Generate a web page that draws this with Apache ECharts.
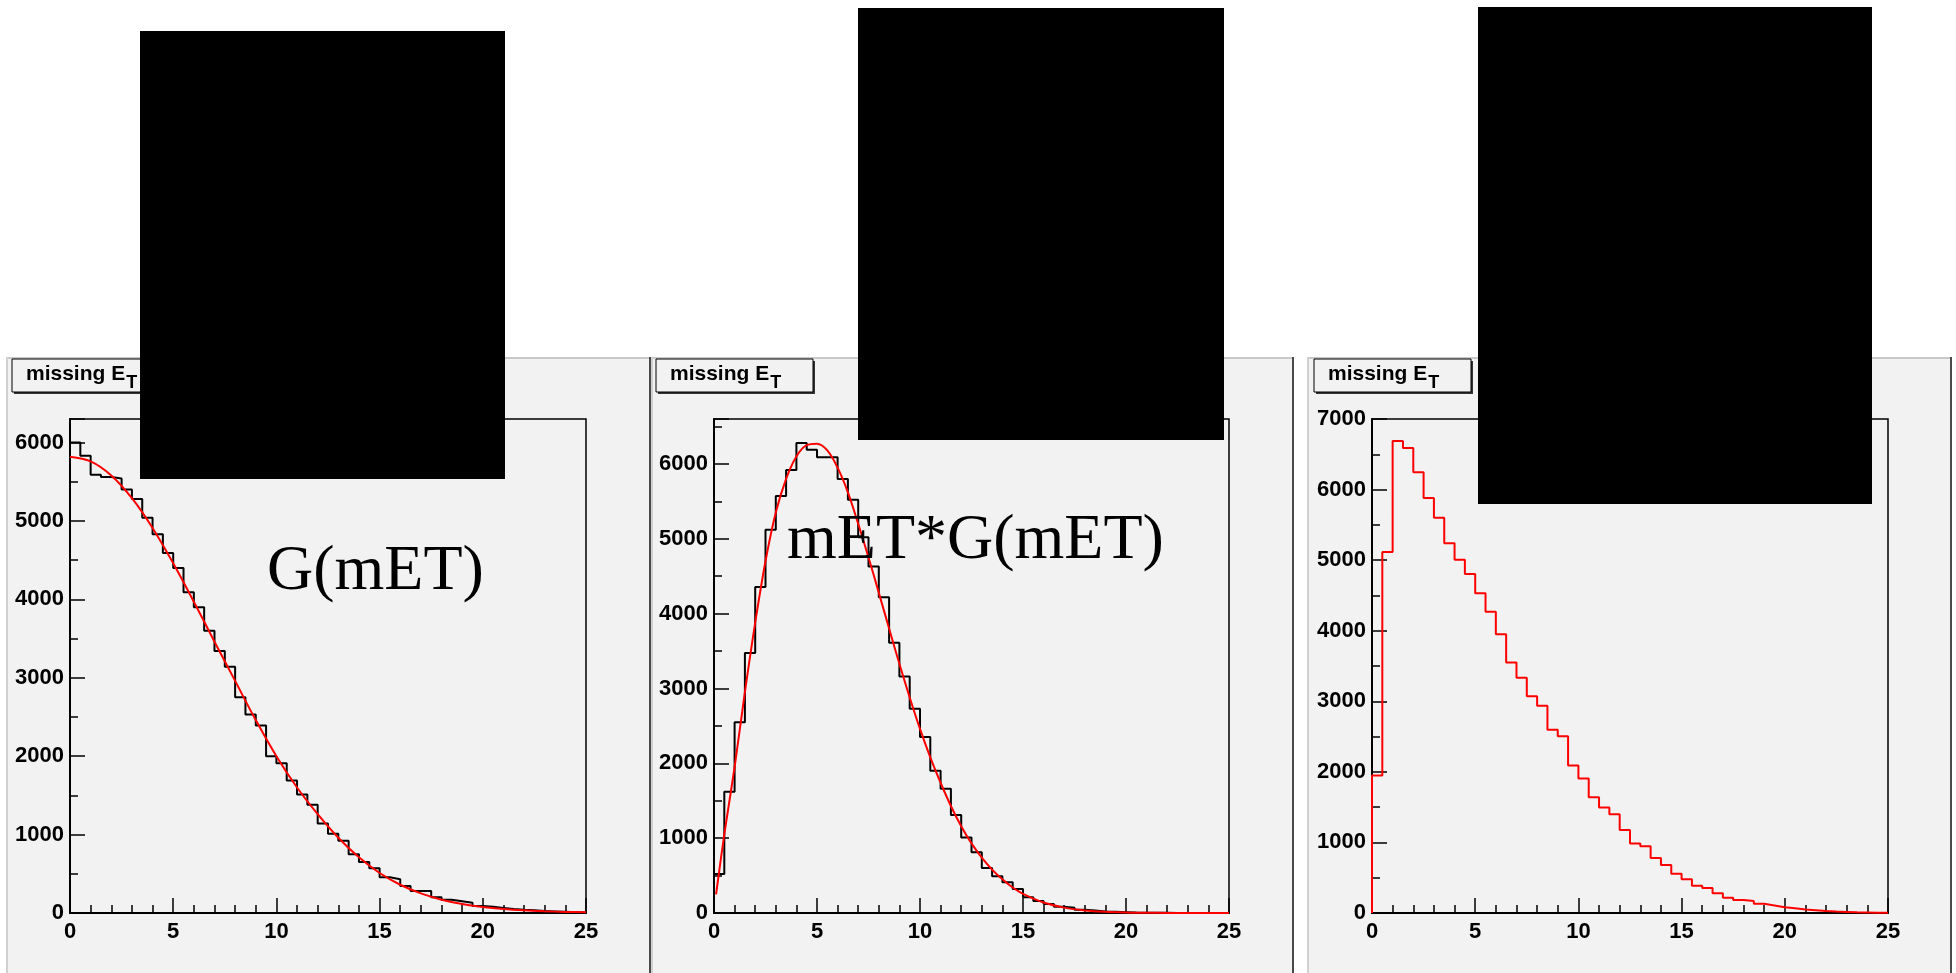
<!DOCTYPE html>
<html>
<head>
<meta charset="utf-8">
<style>
  html, body { margin: 0; padding: 0; background: #fff; }
  #chart { width: 1956px; height: 973px; }
</style>
<script src="https://cdn.jsdelivr.net/npm/echarts@6/dist/echarts.min.js"></script>
</head>
<body>
<div id="chart"></div>
<script>
  // histograms, 50 bins of 0.5 from 0 to 25
  var binWidth = 0.5;
  var gCounts = [6000,5830,5590,5560,5540,5400,5280,5040,4830,4590,4400,4090,3900,3600,3340,3140,2750,2530,2390,2000,
    1910,1690,1510,1380,1140,1010,920,750,650,570,455,430,345,280,280,200,170,150,130,90,
    80,65,50,40,35,25,20,15,10,5];
  var metGCounts = [520,1620,2550,3475,4355,5120,5570,5920,6280,6190,6090,6090,5800,5520,5020,4630,4220,3610,3160,2730,
    2350,1900,1660,1310,1010,810,600,490,410,320,210,160,120,85,70,42,32,21,16,11,
    6,4,3,2,1,1,0,0,0,0];
  var redCounts = [1950,5115,6690,6590,6245,5880,5600,5240,5005,4805,4530,4270,3950,3550,3335,3070,2935,2595,2505,2090,
    1905,1640,1495,1400,1175,985,945,780,680,555,480,385,355,280,215,185,170,130,105,80,
    68,48,40,28,20,15,10,8,5,2];

  // fitted curves (red)
  var gFitX = [0,1,2,3,4,5,6,7,8,9,10,11,12,13,14,15,16,17,18,19,20,21,22,23,24,25];
  var gFitY = [5820,5760,5580,5290,4910,4460,3970,3460,2960,2460,2000,1600,1260,960,710,510,360,250,170,115,78,52,34,22,14,9];
  var metGFitX = [0.1,0.5,1,1.5,2,2.5,3,3.5,4,4.5,5,5.5,6,6.5,7,7.5,8,8.5,9,9.5,10,10.5,11,11.5,12,12.5,13,13.5,14,14.5,15,16,17,18,19,20,21,22,23,24,25];
  var metGFitY = [250,1050,1950,2950,3880,4700,5350,5800,6100,6250,6270,6180,5950,5620,5200,4750,4280,3800,3330,2880,2460,2080,1740,1430,1160,930,740,580,450,340,255,140,72,35,16,7,3,1,0,0,0];

  var xMax = 25;
  var yMax = [6300, 6600, 7000];
  var paneTitle = 'missing E';
  var paneTitleSub = 'T';
  var fitLabels = ['G(mET)', 'mET*G(mET)'];

  function histPoints(counts) {
    var pts = [[0, 0]];
    for (var i = 0; i < counts.length; i++) {
      pts.push([i * binWidth, counts[i]]);
      pts.push([(i + 1) * binWidth, counts[i]]);
    }
    pts.push([counts.length * binWidth, 0]);
    return pts;
  }
  function zipPoints(xs, ys) {
    return xs.map(function (x, i) { return [x, ys[i]]; });
  }

  var chart = echarts.init(document.getElementById('chart'));
  var labelFont = { color: '#000', fontSize: 22, fontWeight: 'bold', fontFamily: 'Liberation Sans' };
  var grids = [
    { left: 70, top: 419, width: 516, height: 494 },
    { left: 714, top: 419, width: 515, height: 494 },
    { left: 1372, top: 419, width: 516, height: 494 }
  ];
  var panes = [[6, 651], [651, 1294], [1307, 1952]];
  var boxLeft = [12, 656, 1314];

  var xAxes = [], yAxes = [];
  grids.forEach(function (g, i) {
    g.show = true;
    g.borderColor = '#000';
    g.borderWidth = 1.5;
    g.backgroundColor = '#f2f2f2';
    xAxes.push({
      gridIndex: i, type: 'value', min: 0, max: xMax, interval: 5,
      axisLine: { onZero: false, lineStyle: { color: '#000', width: 2 } },
      axisTick: { inside: true, length: 15, lineStyle: { color: '#000', width: 1.5 } },
      minorTick: { show: true, splitNumber: 5, length: 8, lineStyle: { color: '#000', width: 1.5 } },
      splitLine: { show: false },
      axisLabel: Object.assign({ margin: 8 }, labelFont)
    });
    yAxes.push({
      gridIndex: i, type: 'value', min: 0, max: yMax[i], interval: 1000,
      axisLine: { show: true, onZero: false, lineStyle: { color: '#000', width: 2 } },
      axisTick: { inside: true, length: 15, lineStyle: { color: '#000', width: 1.5 } },
      minorTick: { show: true, splitNumber: 2, length: 8, lineStyle: { color: '#000', width: 1.5 } },
      splitLine: { show: false },
      axisLabel: Object.assign({
        margin: 6, showMaxLabel: yMax[i] % 1000 === 0,
        formatter: function (v) { return String(v); }
      }, labelFont)
    });
  });

  function histSeries(idx, counts, color) {
    return {
      type: 'line', xAxisIndex: idx, yAxisIndex: idx, data: histPoints(counts),
      showSymbol: false, symbol: 'none', lineStyle: { color: color, width: 2 }, z: 3
    };
  }
  function fitSeries(idx, xs, ys) {
    return {
      type: 'line', xAxisIndex: idx, yAxisIndex: idx, data: zipPoints(xs, ys),
      smooth: 0.35, showSymbol: false, symbol: 'none',
      lineStyle: { color: '#ff0000', width: 2 }, z: 4
    };
  }

  // pads, title boxes, overlays
  var ctx = document.createElement('canvas').getContext('2d');
  ctx.font = 'bold 21px "Liberation Sans"';
  var titleW = ctx.measureText(paneTitle).width;

  var graphics = [];
  panes.forEach(function (p, i) {
    graphics.push({ type: 'rect', z: -5, shape: { x: p[0], y: 357, width: p[1] - p[0], height: 616 }, style: { fill: '#f2f2f2' } });
    graphics.push({ type: 'rect', z: -4, shape: { x: p[0], y: 357, width: p[1] - p[0], height: 2 }, style: { fill: '#c8c8c8' } });
    graphics.push({ type: 'rect', z: -4, shape: { x: p[0], y: 357, width: 2, height: 616 }, style: { fill: '#d0d0d0' } });
    graphics.push({ type: 'rect', z: -4, shape: { x: p[1] - 2, y: 357, width: 2, height: 616 }, style: { fill: '#4a4a4a' } });
    var bx = boxLeft[i];
    graphics.push({ type: 'rect', z: 10, shape: { x: bx + 2, y: 361, width: 157, height: 33 }, style: { fill: '#333' } });
    graphics.push({ type: 'rect', z: 11, shape: { x: bx, y: 359, width: 157, height: 33 }, style: { fill: '#f2f2f2', stroke: '#000', lineWidth: 1 } });
    graphics.push({ type: 'text', z: 12, x: bx + 14, y: 374, style: { text: paneTitle, fill: '#000', font: 'bold 21px "Liberation Sans"', verticalAlign: 'middle' } });
    graphics.push({ type: 'text', z: 12, x: bx + 14 + titleW + 1, y: 383, style: { text: paneTitleSub, fill: '#000', font: 'bold 18px "Liberation Sans"', verticalAlign: 'middle' } });
  });
  graphics.push({ type: 'text', z: 50, x: 267, y: 572, style: { text: fitLabels[0], fill: '#000', font: '64px "Liberation Serif"', verticalAlign: 'middle' } });
  graphics.push({ type: 'text', z: 50, x: 787, y: 541, style: { text: fitLabels[1], fill: '#000', font: '64px "Liberation Serif"', verticalAlign: 'middle' } });
  // black boxes covering parts of the picture
  graphics.push({ type: 'rect', z: 100, shape: { x: 140, y: 31, width: 365, height: 448 }, style: { fill: '#000' } });
  graphics.push({ type: 'rect', z: 100, shape: { x: 858, y: 8, width: 366, height: 432 }, style: { fill: '#000' } });
  graphics.push({ type: 'rect', z: 100, shape: { x: 1478, y: 7, width: 394, height: 497 }, style: { fill: '#000' } });

  chart.setOption({
    backgroundColor: '#fff',
    animation: false,
    grid: grids,
    xAxis: xAxes,
    yAxis: yAxes,
    graphic: graphics,
    series: [
      histSeries(0, gCounts, '#000'),
      fitSeries(0, gFitX, gFitY),
      histSeries(1, metGCounts, '#000'),
      fitSeries(1, metGFitX, metGFitY),
      histSeries(2, redCounts, '#ff0000')
    ]
  });
</script>
</body>
</html>
